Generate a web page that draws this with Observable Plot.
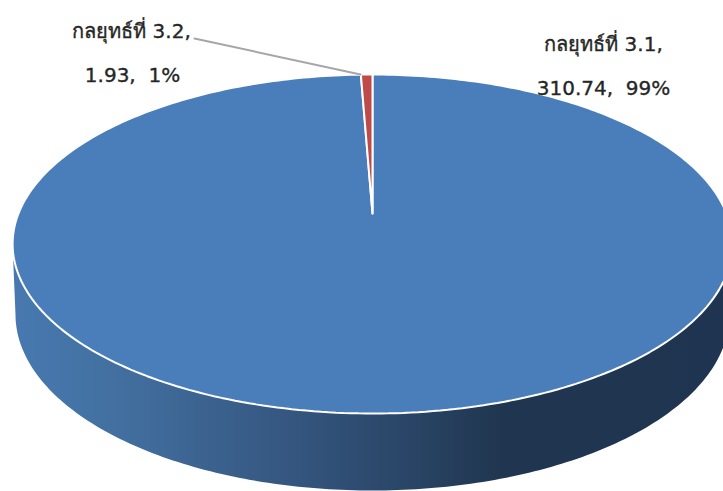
<!DOCTYPE html>
<html>
<head>
<meta charset="utf-8">
<script src="https://cdn.jsdelivr.net/npm/d3@7"></script>
<script src="https://cdn.jsdelivr.net/npm/@observablehq/plot@0.6"></script>
<style>html,body{margin:0;padding:0;background:#fff;overflow:hidden}</style>
</head>
<body>
<div id="chart"></div>
<script>
const categories = ["กลยุทธ์ที่ 3.1", "กลยุทธ์ที่ 3.2"];
const values = [310.74, 1.93];
const percents = ["99%", "1%"];

const total = d3.sum(values);
const blueTurn = values[0] / total;   // clockwise share from 12 o'clock

// perspective projection of the pie's unit circle onto the page
const cx = 372, apexY = 213, R = 354, c = 0.18, a = -164;
const proj = t => {
  const u = Math.sin(t), v = Math.cos(t), w = 1 + c * v;
  return {px: cx + R * u / w, py: apexY + a * v / w};
};
const arc = (t0, t1, n) => d3.range(n + 1).map(i => proj(t0 + (t1 - t0) * i / n));
const apex = {px: cx, py: apexY};
const TAU = 2 * Math.PI;

const blue = [apex, ...arc(0, blueTurn * TAU, 360), apex];
const red = [apex, ...arc(blueTurn * TAU, TAU, 4), apex];

// wall of the cylinder: lower half of the base ellipse
const base = d3.range(0, 181).map(i => {
  const t = Math.PI * i / 180;
  return {px: 372 - 357 * Math.cos(t), py: 314 + 176 * Math.sin(t)};
});
const wall = [{px: 12, py: 243}, ...base, {px: 732, py: 243}];

const labels = [
  {t: categories[1] + ",", px: 131, py: 31},
  {t: values[1] + ",  " + percents[1], px: 132, py: 75},
  {t: categories[0] + ",", px: 603, py: 44},
  {t: values[0] + ",  " + percents[0], px: 603, py: 88}
];
const leader = [{px: 194, py: 38}, {px: 360, py: 74}];

const defs = () => {
  const ns = "http://www.w3.org/2000/svg";
  const d = document.createElementNS(ns, "defs");
  const g = document.createElementNS(ns, "linearGradient");
  g.setAttribute("id", "wallGrad");
  g.setAttribute("gradientUnits", "userSpaceOnUse");
  g.setAttribute("x1", 12); g.setAttribute("x2", 732);
  g.setAttribute("y1", 0); g.setAttribute("y2", 0);
  for (const [o, col] of [[0, "#4779b0"], [0.15, "#426f9f"], [0.35, "#375a85"], [0.5, "#2d4a6e"], [0.68, "#203650"], [1, "#1f3450"]]) {
    const s = document.createElementNS(ns, "stop");
    s.setAttribute("offset", o); s.setAttribute("stop-color", col);
    g.appendChild(s);
  }
  d.appendChild(g);
  return d;
};

const xy = {x: "px", y: "py"};
const chart = Plot.plot({
  width: 723, height: 491,
  margin: 0,
  x: {domain: [0, 723], range: [0, 723], axis: null},
  y: {domain: [0, 491], range: [0, 491], axis: null},
  style: {background: "#fff", fontFamily: "'DejaVu Sans', 'Noto Sans', sans-serif"},
  marks: [
    defs,
    Plot.line(wall, {...xy, fill: "url(#wallGrad)", stroke: "none"}),
    Plot.line(blue, {...xy, fill: "#4a7ebb", stroke: "#fff", strokeWidth: 2, strokeLinejoin: "miter"}),
    Plot.line(red, {...xy, fill: "#be4b48", stroke: "#fff", strokeWidth: 2, strokeLinejoin: "miter"}),
    Plot.line(leader, {...xy, stroke: "#a6a6a6", strokeWidth: 2}),
    Plot.text(labels, {...xy, text: "t", fontSize: 20, fill: "#262626", stroke: "#262626", strokeWidth: 0.35, textAnchor: "middle", lineAnchor: "middle"})
  ]
});
document.getElementById("chart").appendChild(chart);
</script>
</body>
</html>
